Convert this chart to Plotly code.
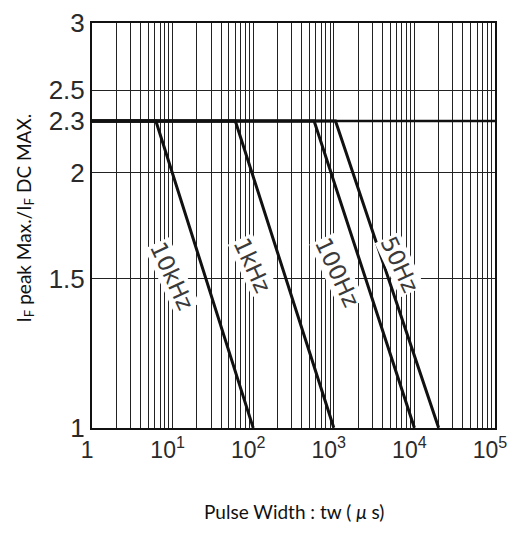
import math
import plotly.graph_objects as go

# ---- data ----
series_names = ["10kHz", "1kHz", "100Hz", "50Hz"]
# pulse width (µs): start of plot, knee (ratio 2.3), end (ratio 1)
x_start = [1, 1, 1, 1]
x_knee = [6.2, 60, 570, 1050]
x_end = [100, 1000, 10000, 20000]
y_flat = 2.3
y_end = 1.0

# label positions (data coordinates)
label_x = [9.8, 97, 1100, 6600]
label_y = [1.51, 1.556, 1.527, 1.556]

x_tickvals = [1, 10, 100, 1000, 10000, 100000]
x_ticktext = ["1", "10<sup>1</sup>", "10<sup>2</sup>", "10<sup>3</sup>", "10<sup>4</sup>", "10<sup>5</sup>"]
y_tickvals = [1, 1.5, 2, 2.3, 2.5, 3]
y_ticktext = ["1", "1.5", "2", "2.3", "2.5", "3"]

x_minor = [m * 10 ** d for d in range(5) for m in range(2, 10)]

y_tick_font = dict(family="Liberation Sans Narrow, Liberation Sans, Arial", size=26, color="#2a2a2a")
x_tick_font = dict(family="Liberation Sans Narrow, Liberation Sans, Arial", size=23, color="#2a2a2a")
title_font = dict(family="Lato, Noto Sans, sans-serif", size=19, color="#111")

fig = go.Figure()

for i, name in enumerate(series_names):
    fig.add_trace(go.Scatter(
        x=[x_start[i], x_knee[i], x_end[i]],
        y=[y_flat, y_flat, y_end],
        mode="lines",
        line=dict(color="#111", width=3),
        name=name,
        showlegend=False,
        hoverinfo="skip",
    ))

# thick 2.3 reference line across the whole plot
fig.add_shape(type="line", xref="paper", x0=0, x1=1, yref="y", y0=y_flat, y1=y_flat,
              line=dict(color="#111", width=2.5), layer="above")

for i, name in enumerate(series_names):
    fig.add_annotation(
        x=math.log10(label_x[i]), y=math.log10(label_y[i]),
        xref="x", yref="y", text=name, showarrow=False, textangle=65,
        font=dict(family="DejaVu Sans, Liberation Sans", size=23, color="#3a3a3a"),
        bgcolor="white", borderpad=0,
    )

fig.add_annotation(x=0.5, y=0, xref="paper", yref="paper", yanchor="top", yshift=-70,
                   text="Pulse Width : tw ( <i>μ</i> s)", showarrow=False, font=title_font)
fig.add_annotation(x=0, y=0.5, xref="paper", yref="paper", xanchor="center", xshift=-68, yshift=7,
                   text="I<sub>F</sub> peak Max./I<sub>F</sub> DC MAX.", textangle=-90,
                   showarrow=False, font=title_font)

fig.update_xaxes(
    type="log", range=[-0.0005, 5.0005], automargin=False, ticklabeloverflow="allow",
    ticklabelshift=-5,
    tickvals=x_tickvals, ticktext=x_ticktext, tickfont=x_tick_font, ticks="",
    showgrid=True, gridcolor="#222", gridwidth=1.4,
    minor=dict(tickvals=x_minor, showgrid=True, gridcolor="#222", gridwidth=1.3, ticks=""),
    showline=True, linecolor="#111", linewidth=2, mirror=True, zeroline=False,
)
fig.update_yaxes(
    type="log", range=[-0.0002, math.log10(3) + 0.0002], automargin=False, ticklabeloverflow="allow",
    tickvals=y_tickvals, ticktext=y_ticktext, tickfont=y_tick_font, ticks="",
    showgrid=True, gridcolor="#222", gridwidth=1.4,
    showline=True, linecolor="#111", linewidth=2, mirror=True, zeroline=False,
)

fig.update_layout(
    width=507, height=525,
    margin=dict(l=84, r=20, t=15, b=105, autoexpand=False),
    plot_bgcolor="white", paper_bgcolor="white",
    showlegend=False,
)

fig.write_html("out.html")
